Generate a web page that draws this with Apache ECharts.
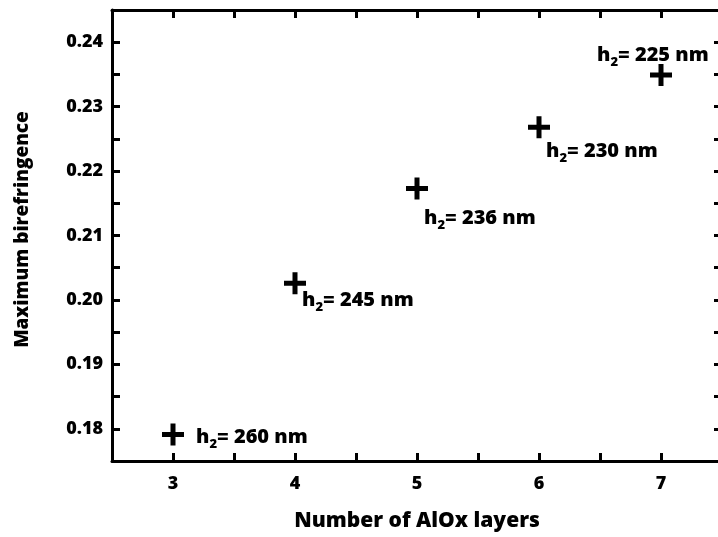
<!DOCTYPE html>
<html>
<head>
<meta charset="utf-8">
<script src="https://cdn.jsdelivr.net/npm/echarts@6/dist/echarts.min.js"></script>
<style>
  html, body { margin: 0; padding: 0; background: #fff; overflow: hidden; }
  #chart { width: 725px; height: 537px; }
</style>
</head>
<body>
<div id="chart"></div>
<script>
// data
const layers = [3, 4, 5, 6, 7]
const birefringence = [0.1791, 0.2026, 0.2173, 0.2268, 0.2349]
const h2 = [260, 245, 236, 230, 225]
const labelOffsets = [[8, 3], [-8, 17], [-8, 30], [-8, 24], [-79, -20]]

const font = 'Open Sans'
const weight = 800
const plus = 'path://M8.5,0 H13.5 V8.5 H22 V13.5 H13.5 V22 H8.5 V13.5 H0 V8.5 H8.5 Z'

// the plot runs a few pixels past the right edge of the window, like the original
const chart = echarts.init(document.getElementById('chart'))

const baseX = {
  type: 'value',
  min: 2.5,
  max: 7.5,
  interval: 0.5,
  axisLine: { show: true, onZero: false, lineStyle: { color: '#000', width: 3 } },
  axisTick: { show: true, inside: true, length: 8, lineStyle: { color: '#000', width: 3 } },
  splitLine: { show: false },
}
const baseY = {
  type: 'value',
  min: 0.175,
  max: 0.245,
  interval: 0.005,
  axisLine: { show: true, onZero: false, lineStyle: { color: '#000', width: 3 } },
  axisTick: { show: true, inside: true, length: 8, lineStyle: { color: '#000', width: 3 } },
  splitLine: { show: false },
}

const txt = size => ({ fontFamily: font, fontWeight: weight, fontSize: size, color: '#000' })

const option = {
  animation: false,
  textStyle: { fontFamily: font },
  grid: { left: 112, top: 10, right: 0, bottom: 74 },
  xAxis: [
    {
      ...baseX,
      position: 'bottom',
      name: 'Number of AlOx layers',
      nameLocation: 'middle',
      nameGap: 50,
      nameTextStyle: txt(21),
      axisLabel: {
        ...txt(18), margin: 14,
        formatter: v => (Number.isInteger(v) ? String(v) : ''),
      },
    },
    { ...baseX, position: 'top', axisLabel: { show: false } },
  ],
  yAxis: [
    {
      ...baseY,
      position: 'left',
      name: 'Maximum birefringence',
      nameLocation: 'middle',
      nameGap: 80,
      nameTextStyle: { ...txt(19), padding: [0, 0, 0, 12] },
      axisLabel: {
        ...txt(18), margin: 9,
        formatter: v => {
          const r = Math.round(v * 1000)
          return r % 10 === 0 ? (r / 1000).toFixed(2) : ''
        },
      },
    },
    { ...baseY, position: 'right', axisLabel: { show: false } },
  ],
  series: [
    {
      type: 'scatter',
      symbol: plus,
      symbolSize: 22,
      itemStyle: { color: '#000', opacity: 1 },
      data: layers.map((x, i) => ({
        value: [x, birefringence[i]],
        label: {
          show: true,
          position: 'right',
          distance: 4,
          offset: labelOffsets[i],
          formatter: '{h|h}{s|2}{t|= ' + h2[i] + ' nm}',
          rich: {
            h: txt(20),
            s: { ...txt(13), padding: [14, 0, 0, 0] },
            t: txt(20),
          },
        },
      })),
    },
  ],
}
chart.setOption(option)
</script>
</body>
</html>
